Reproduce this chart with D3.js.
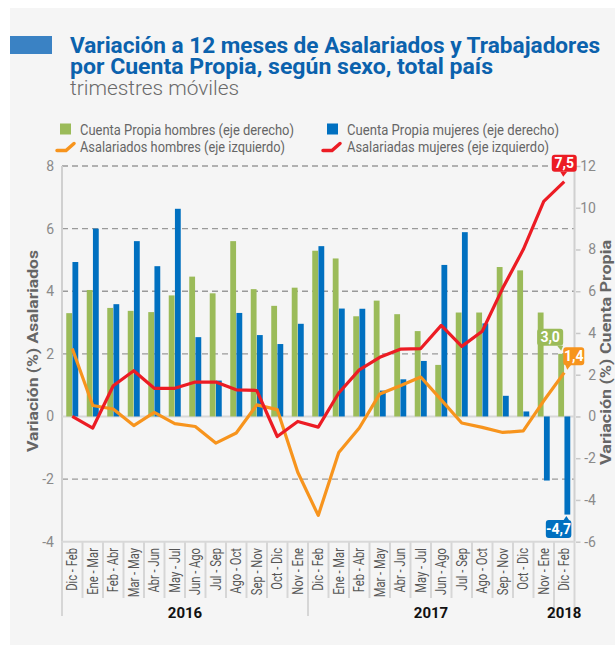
<!DOCTYPE html>
<html>
<head>
<meta charset="utf-8">
<script src="https://cdn.jsdelivr.net/npm/d3@7"></script>
<style>
  body { margin: 0; background: #fff; }
  svg { display: block; font-family: Roboto, "Open Sans", sans-serif; }
</style>
</head>
<body>
<svg id="chart" width="615" height="645"></svg>
<script>
// Datos
const categorias = [
  "Dic - Feb", "Ene - Mar", "Feb - Abr", "Mar - May", "Abr - Jun", "May - Jul",
  "Jun - Ago", "Jul - Sep", "Ago - Oct", "Sep - Nov", "Oct - Dic", "Nov - Ene",
  "Dic - Feb", "Ene - Mar", "Feb - Abr", "Mar - May", "Abr - Jun", "May - Jul",
  "Jun - Ago", "Jul - Sep", "Ago - Oct", "Sep - Nov", "Oct - Dic", "Nov - Ene",
  "Dic - Feb"
];
const anios = ["2016", "2017", "2018"];
const aniosN = [12, 12, 1];

// eje derecho (barras)
const cpHombres = [4.95, 6.06, 5.2, 5.06, 5.0, 5.8, 6.7, 5.9, 8.4, 6.1, 5.3, 6.17,
  7.94, 7.57, 4.8, 5.55, 4.9, 4.09, 2.47, 4.98, 4.98, 7.16, 7.0, 4.98, 3.0];
const cpMujeres = [7.4, 9.0, 5.38, 8.4, 7.2, 9.95, 3.8, 1.72, 4.96, 3.9, 3.47, 4.44,
  8.16, 5.17, 5.16, 1.24, 1.78, 2.66, 7.26, 8.83, 4.46, 0.99, 0.24, -3.07, -4.7];

// eje izquierdo (líneas)
const asalHombres = [2.17, 0.35, 0.24, -0.29, 0.13, -0.23, -0.32, -0.85, -0.53, 0.37, 0.22, -1.78,
  -3.16, -1.15, -0.37, 0.72, 0.98, 1.26, 0.53, -0.21, -0.35, -0.51, -0.46, 0.5, 1.4];
const asalMujeres = [0.0, -0.37, 0.98, 1.46, 0.9, 0.9, 1.1, 1.1, 0.85, 0.83, -0.64, -0.16,
  -0.34, 0.75, 1.49, 1.89, 2.15, 2.17, 2.91, 2.24, 2.72, 4.1, 5.33, 6.87, 7.5];

const ticksIzq = [-4, -2, 0, 2, 4, 6, 8];
const ticksDer = [-6, -4, -2, 0, 2, 4, 6, 8, 10, 12];

const verde = "#9bbb59", azul = "#0070c0", naranjo = "#f7941d", rojo = "#ec1c24";
const gris = "#8a8a8a";

const svg = d3.select("#chart");

// fondo
svg.append("rect").attr("x", 10).attr("y", 8).attr("width", 605).attr("height", 637).attr("fill", "#f5f5f5");

// --- Títulos ---
svg.append("rect").attr("x", 10).attr("y", 36).attr("width", 42).attr("height", 18).attr("fill", "#3a82c4");
svg.append("text").attr("x", 70).attr("y", 52.5)
  .attr("font-size", 22.5).attr("font-weight", 700).attr("fill", "#0b62ad")
  .attr("textLength", 530).attr("lengthAdjust", "spacingAndGlyphs")
  .text("Variación a 12 meses de Asalariados y Trabajadores");
svg.append("text").attr("x", 70).attr("y", 73.5)
  .attr("font-size", 22.5).attr("font-weight", 700).attr("fill", "#0b62ad")
  .attr("textLength", 423).attr("lengthAdjust", "spacingAndGlyphs")
  .text("por Cuenta Propia, según sexo, total país");
svg.append("text").attr("x", 70).attr("y", 94.5)
  .attr("font-size", 20).attr("font-weight", 300).attr("fill", "#6a6a6a")
  .attr("textLength", 169).attr("lengthAdjust", "spacingAndGlyphs")
  .text("trimestres móviles");

// --- Escalas ---
const x = d3.scaleBand().domain(d3.range(categorias.length)).range([62, 574.5]);
const bw = x.bandwidth();
const xs = d3.scaleBand().domain(["h", "m"]).range([-6, 6]).paddingInner(0.06);
const yL = d3.scaleLinear().domain([-4, 8]).range([541.7, 166]);
const yR = d3.scaleLinear().domain([-6, 12]).range([541.7, 166]);
const cx = i => x(i) + bw / 2;

// --- Grilla ---
svg.append("g").selectAll("line")
  .data(ticksIzq.filter(d => d !== 0 && d !== -4))
  .join("line")
  .attr("x1", 62).attr("x2", 574.5)
  .attr("y1", d => yL(d)).attr("y2", d => yL(d))
  .attr("stroke", "#9a9a9a").attr("stroke-width", 1.3).attr("stroke-dasharray", "6,4");

// separadores de categorías
const bordes = d3.range(categorias.length + 1);
const bordesAnio = [0, 12, 24, 25];
svg.append("g").selectAll("line")
  .data(bordes)
  .join("line")
  .attr("x1", i => 62 + bw * i).attr("x2", i => 62 + bw * i)
  .attr("y1", yL(-4)).attr("y2", i => bordesAnio.includes(i) ? 616 : 598)
  .attr("stroke", "#d6d6d6").attr("stroke-width", 2);

// ejes verticales y líneas base
svg.append("line").attr("x1", 62).attr("x2", 62).attr("y1", yL(8)).attr("y2", yL(-4))
  .attr("stroke", "#d0d0d0").attr("stroke-width", 2);
svg.append("line").attr("x1", 574.5).attr("x2", 574.5).attr("y1", yR(12)).attr("y2", yR(-6))
  .attr("stroke", "#d0d0d0").attr("stroke-width", 2);
[0, -4].forEach(v => {
  svg.append("line").attr("x1", 62).attr("x2", 574.5).attr("y1", yL(v)).attr("y2", yL(v))
    .attr("stroke", "#d8d8d8").attr("stroke-width", 2);
});

// --- Ejes ---
const ejeIzq = svg.append("g").attr("transform", "translate(62,0)")
  .call(d3.axisLeft(yL).tickValues(ticksIzq).tickSize(0).tickPadding(8));
ejeIzq.select(".domain").remove();
ejeIzq.selectAll("text").attr("font-size", 14).attr("fill", gris).attr("font-family", "Roboto, sans-serif");

const ejeDer = svg.append("g").attr("transform", "translate(574.5,0)")
  .call(d3.axisRight(yR).tickValues(ticksDer).tickSize(6).tickFormat(d3.format("d")));
ejeDer.select(".domain").remove();
ejeDer.selectAll("line").attr("x1", 1.5).attr("stroke", "#c8c8c8").attr("stroke-width", 1.5);
ejeDer.selectAll("text").attr("x", 21.5).attr("text-anchor", "end")
  .attr("font-size", 14).attr("fill", gris).attr("font-family", "Roboto, sans-serif");
ejeIzq.selectAll("text").text(d => d3.format("d")(d).replace("−", "-"));
ejeDer.selectAll("text").text(d => d3.format("d")(d).replace("−", "-"));

// títulos de ejes
svg.append("text").attr("transform", "translate(37.5,351) rotate(-90)")
  .attr("text-anchor", "middle").attr("font-size", 15.5).attr("font-weight", 700).attr("fill", "#666")
  .attr("textLength", 202).attr("lengthAdjust", "spacingAndGlyphs")
  .text("Variación (%) Asalariados");
svg.append("text").attr("transform", "translate(610.5,352.5) rotate(-90)")
  .attr("text-anchor", "middle").attr("font-size", 15).attr("font-weight", 700).attr("fill", "#666")
  .attr("textLength", 225).attr("lengthAdjust", "spacingAndGlyphs")
  .text("Variación (%) Cuenta Propia");

// etiquetas de categorías
svg.append("g").selectAll("text")
  .data(categorias)
  .join("text")
  .attr("transform", (d, i) => `translate(${cx(i) + 5},548) rotate(-90) scale(0.8,1)`)
  .attr("text-anchor", "end").attr("font-size", 14).attr("fill", "#555")
  .text(d => d);

// años
let acum = 0;
const aniosPos = aniosN.map(n => { const c = 62 + bw * (acum + n / 2); acum += n; return c; });
svg.append("g").selectAll("text")
  .data(anios)
  .join("text")
  .attr("x", (d, i) => aniosPos[i]).attr("y", 618)
  .attr("text-anchor", "middle").attr("font-size", 15).attr("font-weight", 700).attr("fill", "#111")
  .text(d => d);

// --- Barras ---
const barras = svg.append("g");
barras.selectAll(".bh")
  .data(cpHombres)
  .join("rect")
  .attr("x", (d, i) => cx(i) + xs("h")).attr("width", xs.bandwidth())
  .attr("y", d => Math.min(yR(d), yR(0))).attr("height", d => Math.abs(yR(d) - yR(0)))
  .attr("fill", verde);
barras.selectAll(".bm")
  .data(cpMujeres)
  .join("rect")
  .attr("x", (d, i) => cx(i) + xs("m")).attr("width", xs.bandwidth())
  .attr("y", d => Math.min(yR(d), yR(0))).attr("height", d => Math.abs(yR(d) - yR(0)))
  .attr("fill", azul);

// --- Líneas ---
const linea = d3.line().x((d, i) => cx(i)).y(d => yL(d));
svg.append("path").datum(asalHombres).attr("d", linea)
  .attr("fill", "none").attr("stroke", naranjo).attr("stroke-width", 3.2).attr("stroke-linejoin", "round");
svg.append("path").datum(asalMujeres).attr("d", linea)
  .attr("fill", "none").attr("stroke", rojo).attr("stroke-width", 3.2).attr("stroke-linejoin", "round");

// --- Etiquetas de valor ---
function etiqueta(bx, by, w, h, puntero, color, texto) {
  const g = svg.append("g");
  g.append("rect").attr("x", bx).attr("y", by).attr("width", w).attr("height", h).attr("rx", 3).attr("fill", color);
  g.append("path").attr("d", d3.line()(puntero)).attr("fill", color);
  g.append("text").attr("x", bx + w / 2).attr("y", by + h / 2 + 5)
    .attr("text-anchor", "middle").attr("font-size", 14).attr("font-weight", 700).attr("fill", "#fff")
    .text(texto);
}
const fmt = v => d3.format(".1f")(v).replace(".", ",").replace("−", "-");
const n = categorias.length - 1;

// 7,5 asalariadas mujeres
{
  const px = cx(n), py = yL(asalMujeres[n]);
  etiqueta(px - 12.5, py - 27, 25, 17, [[px - 4, py - 10], [px + 3, py - 10], [px - 1, py - 5]], rojo, fmt(asalMujeres[n]));
}
// 1,4 asalariados hombres
{
  const px = cx(n), py = yL(asalHombres[n]);
  etiqueta(px - 1, py - 25.5, 21, 18, [[px + 1, py - 8], [px + 7, py - 8], [px + 3, py - 3]], naranjo, fmt(asalHombres[n]));
}
// 3,0 cuenta propia hombres
{
  const px = cx(n) + xs("h") + xs.bandwidth() / 2, py = yR(cpHombres[n]);
  etiqueta(px - 24, py - 25, 26, 17, [[px - 4, py - 8], [px + 2, py - 8], [px, py - 3]], verde, fmt(cpHombres[n]));
}
// -4,7 cuenta propia mujeres
{
  const px = cx(n) + xs("m") + xs.bandwidth() / 2, py = yR(cpMujeres[n]);
  etiqueta(px - 21.5, py + 5.5, 25.5, 18, [[px - 4, py + 6], [px + 2, py + 6], [px - 1, py + 1.5]], azul, fmt(cpMujeres[n]));
}

// --- Leyenda ---
const leyenda = svg.append("g").attr("font-size", 15.5).attr("fill", "#666");
leyenda.append("rect").attr("x", 60).attr("y", 123.5).attr("width", 11).attr("height", 11).attr("fill", verde);
leyenda.append("rect").attr("x", 327).attr("y", 123.5).attr("width", 11).attr("height", 11).attr("fill", azul);
leyenda.append("path").attr("d", "M57,150.5 L66,150.5 L74,143.5")
  .attr("fill", "none").attr("stroke", naranjo).attr("stroke-width", 3.5).attr("stroke-linecap", "round");
leyenda.append("path").attr("d", "M323,150.5 L332,150.5 L340,143.5")
  .attr("fill", "none").attr("stroke", rojo).attr("stroke-width", 3.5).attr("stroke-linecap", "round");
const textosLeyenda = [
  ["Cuenta Propia hombres (eje derecho)", 80, 134.5, 214],
  ["Cuenta Propia mujeres (eje derecho)", 347, 134.5, 212],
  ["Asalariados hombres (eje izquierdo)", 80, 151.5, 205],
  ["Asalariadas mujeres (eje izquierdo)", 347, 151.5, 202]
];
leyenda.selectAll("text")
  .data(textosLeyenda)
  .join("text")
  .attr("x", d => d[1]).attr("y", d => d[2])
  .attr("textLength", d => d[3]).attr("lengthAdjust", "spacingAndGlyphs")
  .text(d => d[0]);
</script>
</body>
</html>
